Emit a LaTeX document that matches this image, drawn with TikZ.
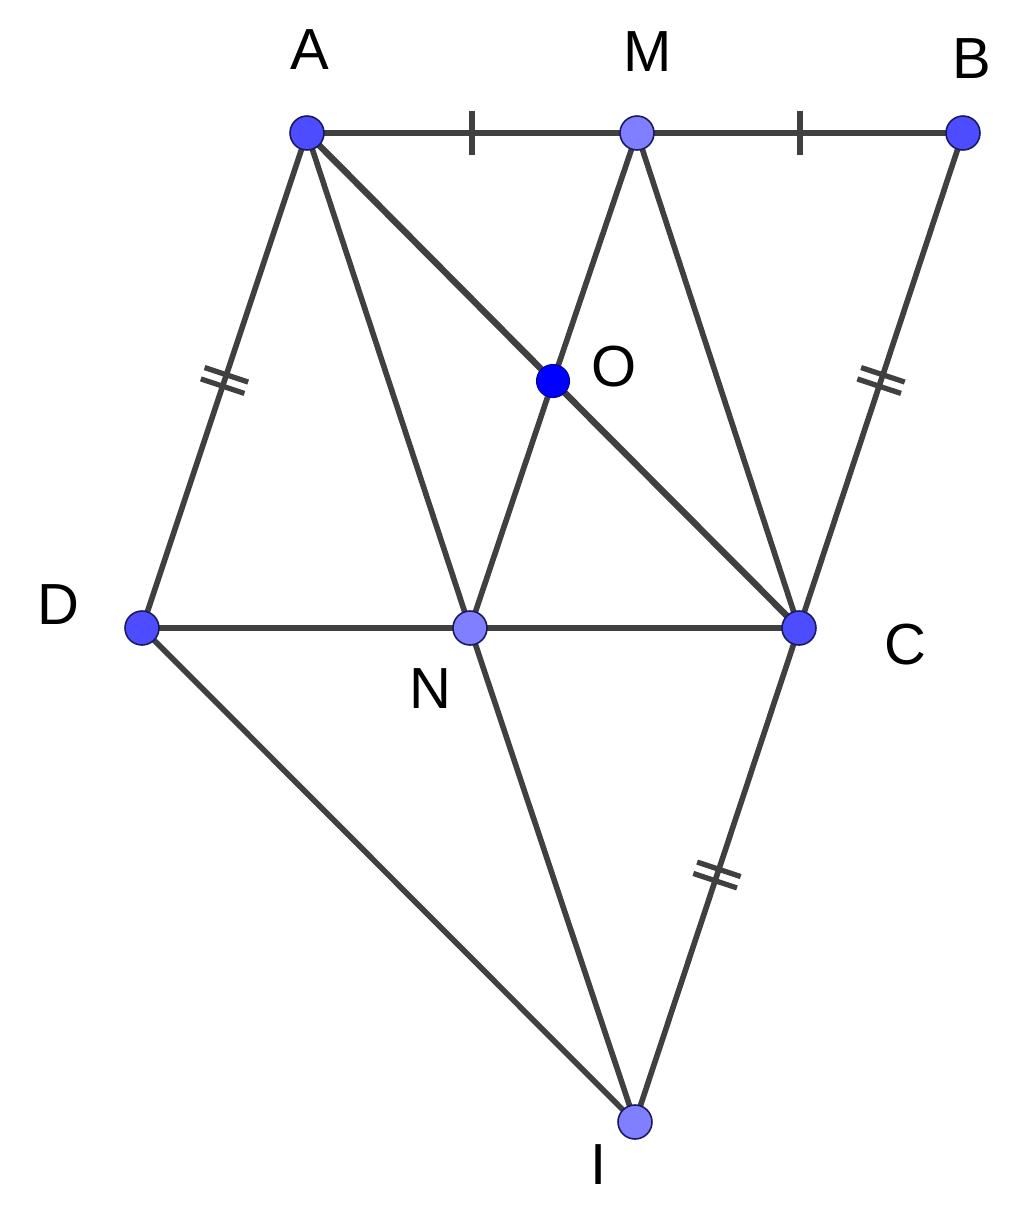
\documentclass[tikz,border=0pt]{standalone}
\usepackage{fontspec}
\setmainfont{Liberation Sans}
\usetikzlibrary{decorations.markings,backgrounds}
\definecolor{lineclr}{HTML}{404040}
\definecolor{ptdark}{HTML}{4D4DFF}
\definecolor{ptlight}{HTML}{7F7FFF}
\definecolor{ptborder}{HTML}{1A1A5E}
\tikzset{
  seg/.style={draw=lineclr, line width=3.2pt},
  thickseg/.style={draw=lineclr, line width=3.7pt},
  ptA/.style={circle, fill=ptdark, draw=ptborder, line width=0.9pt, minimum size=0.68cm, inner sep=0pt},
  ptB/.style={circle, fill=ptlight, draw=ptborder, line width=0.9pt, minimum size=0.68cm, inner sep=0pt},
  ptO/.style={circle, fill=blue, draw=blue!60!black, line width=0.6pt, minimum size=0.66cm, inner sep=0pt},
  lbl/.style={font=\fontsize{33}{36}\selectfont, inner sep=0pt, anchor=center},
  singletick/.style={postaction={decorate, decoration={markings,
     mark=at position 0.5 with {\draw[lineclr, line width=3pt] (0,-0.44cm) -- (0,0.44cm);}}}},
  doubletick/.style={postaction={decorate, decoration={markings,
     mark=at position 0.5 with {\draw[lineclr, line width=3pt] (-0.12cm,-0.46cm) -- (-0.12cm,0.46cm) (0.12cm,-0.46cm) -- (0.12cm,0.46cm);}}}}
}
\begin{document}
\begin{tikzpicture}[x=0.02cm, y=-0.02cm]
\useasboundingbox (0,0) rectangle (1024,1228);
% points
\node[ptA] (A) at (307,133) {};
\node[ptB] (M) at (637,133) {};
\node[ptA] (B) at (963,133) {};
\node[ptO] (O) at (553,381) {};
\node[ptA] (D) at (142,628) {};
\node[ptB] (N) at (470,628) {};
\node[ptA] (C) at (799,628) {};
\node[ptB] (I) at (635,1122) {};
% labels
\node[lbl] (lA) at (310,50) {A};
\node[lbl] (lM) at (648,52) {M};
\node[lbl] (lB) at (972,59) {B};
\node[lbl] (lO) at (614,367) {O};
\node[lbl] (lD) at (58,605) {D};
\node[lbl] (lN) at (430,689) {N};
\node[lbl] (lC) at (905,645) {C};
\node[lbl] (lI) at (599,1165) {I};
\begin{pgfonlayer}{background}
\path[seg, singletick] (A.center) -- (M.center);
\path[seg, singletick] (M.center) -- (B.center);
\path[seg, doubletick] (A.center) -- (D.center);
\path[seg, doubletick] (B.center) -- (C.center);
\path[seg, doubletick] (C.center) -- (I.center);
\path[seg] (D.center) -- (N.center);
\path[seg] (N.center) -- (C.center);
\path[seg] (A.center) -- (N.center);
\path[thickseg] (A.center) -- (O.center);
\path[thickseg] (O.center) -- (C.center);
\path[seg] (M.center) -- (O.center);
\path[seg] (O.center) -- (N.center);
\path[seg] (M.center) -- (C.center);
\path[seg] (D.center) -- (I.center);
\path[seg] (N.center) -- (I.center);
\end{pgfonlayer}
\end{tikzpicture}
\end{document}
